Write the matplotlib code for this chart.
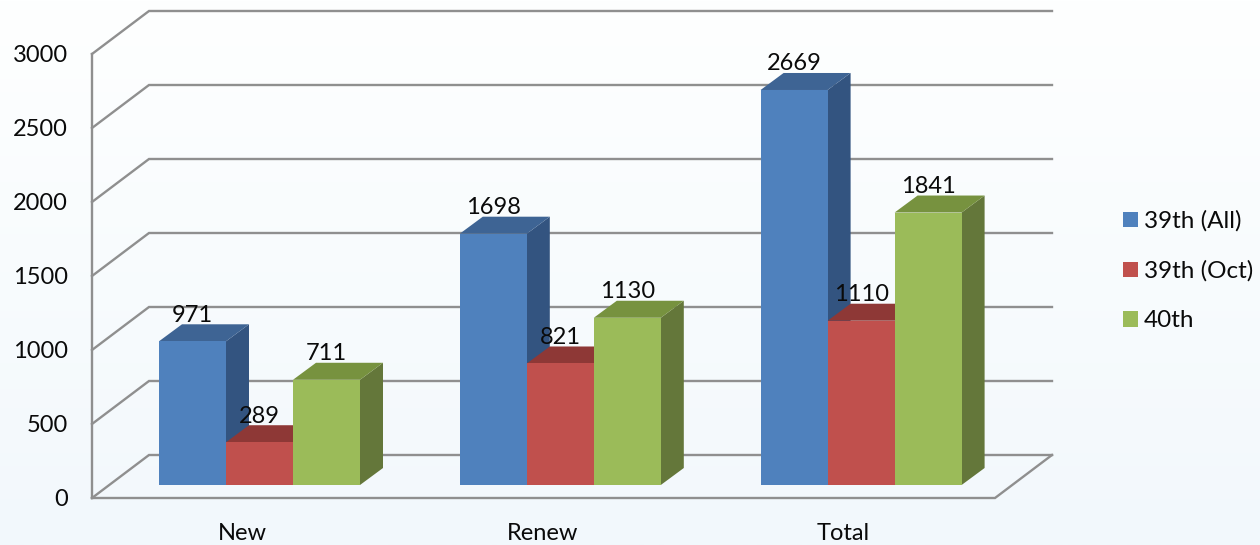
import numpy as np
import matplotlib
matplotlib.use('Agg')
import matplotlib.pyplot as plt
from matplotlib.patches import Polygon, Patch

plt.rcParams['font.family'] = ['Lato', 'DejaVu Sans']

# данные
categories = ['New', 'Renew', 'Total']
series_names = ['39th (All)', '39th (Oct)', '40th']
all39 = [971, 1698, 2669]
oct39 = [289, 821, 1110]
th40 = [711, 1130, 1841]
y_ticks = [0, 500, 1000, 1500, 2000, 2500, 3000]

# цвета: перед, верх, бок
front_c = ['#4F81BD', '#C0504D', '#9BBB59']
top_c = ['#3E6494', '#8E3836', '#77923F']
side_c = ['#335480', '#7A2F2D', '#64773A']
grid_c = '#8F8F8F'
text_c = '#0A0A0A'

# одна группа = 300.8 px, 1000 единиц = 148 px
PX_X = 300.8
PX_Y = 0.148
bar_w = 67 / PX_X
bar_dx, bar_dy = 23 / PX_X, 17 / PX_Y        # глубина столбика
wall_dx, wall_dy = 57 / PX_X, 43 / PX_Y      # глубина пола
floor_dx, floor_dy = -67 / PX_X, -13 / PX_Y  # передний левый угол относительно столбика
floor_right = floor_dx + 903 / PX_X

fig = plt.figure(figsize=(12.6, 5.45), dpi=100)
ax = fig.add_axes([0, 0, 1, 1])
xlim = (-159 / PX_X, (1260 - 159) / PX_X)
ylim = (-(545 - 485) / PX_Y, 485 / PX_Y)
ax.axis('off')

# фон
grad = np.linspace(0, 1, 256).reshape(-1, 1)
bg = np.array([0xFE, 0xFF, 0xFF]) + grad[..., None] * (np.array([0xF2, 0xF8, 0xFC]) - np.array([0xFE, 0xFF, 0xFF]))
ax.imshow(bg / 255, extent=[*xlim, *ylim], aspect='auto', origin='upper', zorder=0)
ax.set_xlim(*xlim)
ax.set_ylim(*ylim)

# стенки и сетка
lw = 1.7
x0 = floor_dx
for t in y_ticks:
    y = t + floor_dy
    ax.plot([x0, x0 + wall_dx, floor_right + wall_dx], [y, y + wall_dy, y + wall_dy],
            color=grid_c, lw=lw, zorder=1, solid_joinstyle='miter')
    ax.text(x0 - 26 / PX_X + 2 / PX_X, y - 1 / PX_Y, str(t), ha='right', va='center', fontsize=17, color=text_c, zorder=5)
ax.plot([x0, x0], [floor_dy, 3000 + floor_dy], color=grid_c, lw=lw, zorder=1)
ax.plot([x0, floor_right, floor_right + wall_dx], [floor_dy, floor_dy, floor_dy + wall_dy],
        color=grid_c, lw=lw, zorder=1, solid_joinstyle='miter')

# столбики
for g, cat in enumerate(categories):
    for s, vals in enumerate([all39, oct39, th40]):
        v = vals[g]
        xl = g + s * bar_w
        xr = xl + bar_w
        z = 2 + s * 0.1
        ax.add_patch(Polygon([(xr, 0), (xr + bar_dx, bar_dy), (xr + bar_dx, v + bar_dy), (xr, v)],
                             fc=side_c[s], ec='none', zorder=z))
        ax.add_patch(Polygon([(xl, v), (xl + bar_dx, v + bar_dy), (xr + bar_dx, v + bar_dy), (xr, v)],
                             fc=top_c[s], ec='none', zorder=z))
        ax.add_patch(Polygon([(xl, 0), (xr, 0), (xr, v), (xl, v)],
                             fc=front_c[s], ec='none', zorder=z + 0.01))
        ax.text(xl + bar_w / 2, v + 26 / PX_Y, str(v), ha='center', va='center',
                fontsize=17, color=text_c, zorder=5)
    ax.text(g + 83 / PX_X, -48 / PX_Y, cat, ha='center', va='center', fontsize=17, color=text_c, zorder=5)

# легенда
handles = [Patch(fc=c, ec='none', label=n) for c, n in zip(front_c, series_names)]
ax.legend(handles=handles, loc='center left', bbox_to_anchor=(1101 / 1260, 1 - 271 / 545), frameon=False,
          fontsize=17.5, handlelength=0.62, handleheight=0.62, handletextpad=0.25,
          labelspacing=1.17, labelcolor=text_c)

plt.savefig('out.png', dpi=100)
